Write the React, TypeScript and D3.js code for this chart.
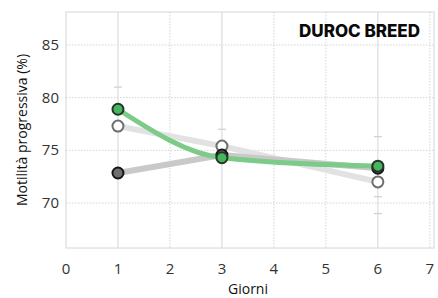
import React, { useRef, useEffect } from "react";
import * as d3 from "d3";

const days = [1, 3, 6];
const greenValues = [78.9, 74.3, 73.5];
const darkValues = [72.85, 74.55, 73.3];
const openValues = [77.3, 75.4, 72.0];
const xTicks = [0, 1, 2, 3, 4, 5, 6, 7];
const yTicks = [70, 75, 80, 85];
const capDays = [1, 3, 6, 6, 6];
const capValues = [81.0, 77.0, 76.3, 70.6, 69.0];

const App = () => {
  const svgRef = useRef<SVGSVGElement>(null);

  useEffect(() => {
    if (!svgRef.current) return;
    const svg = d3.select(svgRef.current);
    svg.selectAll("*").remove();

    const width = 438;
    const height = 298;
    const left = 66;
    const right = 434;
    const top = 12;
    const bottom = 248;

    const x = d3.scaleLinear([0, 7.08], [left, right]);
    const y = d3.scaleLinear([65.73, 88.13], [bottom, top]);

    svg
      .attr("width", width)
      .attr("height", height)
      .style("position", "absolute")
      .style("left", "0px")
      .style("top", "0px");

    // frame
    svg
      .append("rect")
      .attr("x", left)
      .attr("y", top)
      .attr("width", right - left)
      .attr("height", bottom - top)
      .attr("fill", "none")
      .attr("stroke", "#e4e4e4")
      .attr("stroke-width", 1.5);

    // dotted grid
    const grid = svg.append("g");
    grid
      .selectAll("line.h")
      .data(yTicks)
      .join("line")
      .attr("x1", left)
      .attr("x2", right)
      .attr("y1", (d) => y(d))
      .attr("y2", (d) => y(d))
      .attr("stroke", "#d4d4d4")
      .attr("stroke-dasharray", "1.5,1.5");
    grid
      .selectAll("line.v")
      .data(xTicks.filter((d) => d > 0 && !days.includes(d)))
      .join("line")
      .attr("class", "v")
      .attr("x1", (d) => x(d))
      .attr("x2", (d) => x(d))
      .attr("y1", top)
      .attr("y2", bottom)
      .attr("stroke", "#d4d4d4")
      .attr("stroke-dasharray", "1.5,1.5");
    grid
      .selectAll("line.s")
      .data(days)
      .join("line")
      .attr("class", "s")
      .attr("x1", (d) => x(d))
      .attr("x2", (d) => x(d))
      .attr("y1", top)
      .attr("y2", bottom)
      .attr("stroke", "#dcdcdc")
      .attr("stroke-width", 1.2);

    // error caps
    svg
      .append("g")
      .selectAll("line")
      .data(capDays.map((d, i) => [d, capValues[i]]))
      .join("line")
      .attr("x1", (d) => x(d[0]) - 4)
      .attr("x2", (d) => x(d[0]) + 4)
      .attr("y1", (d) => y(d[1]))
      .attr("y2", (d) => y(d[1]))
      .attr("stroke", "#d0d0d0")
      .attr("stroke-width", 1.2);

    // axis labels
    const ticks = svg
      .append("g")
      .style("font-family", "'Open Sans', sans-serif")
      .style("font-size", "15px")
      .attr("fill", "#333");
    ticks
      .selectAll("text.x")
      .data(xTicks)
      .join("text")
      .attr("x", (d) => x(d))
      .attr("y", 274)
      .attr("text-anchor", "middle")
      .text((d) => d);
    ticks
      .selectAll("text.y")
      .data(yTicks)
      .join("text")
      .attr("class", "y")
      .attr("x", 59)
      .attr("y", (d) => y(d) + 5)
      .attr("text-anchor", "end")
      .text((d) => d);

    svg
      .append("text")
      .attr("x", 248)
      .attr("y", 294)
      .attr("text-anchor", "middle")
      .style("font-family", "'Open Sans', sans-serif")
      .style("font-size", "14px")
      .attr("fill", "#111")
      .text("Giorni");

    svg
      .append("text")
      .attr("transform", `translate(27,${(top + bottom) / 2}) rotate(-90)`)
      .attr("text-anchor", "middle")
      .style("font-family", "'Open Sans', sans-serif")
      .style("font-size", "14px")
      .attr("fill", "#111")
      .text("Motilità progressiva (%)");

    svg
      .append("text")
      .attr("x", 420)
      .attr("y", 37)
      .attr("text-anchor", "end")
      .style("font-family", "Inter, sans-serif")
      .style("font-weight", "800")
      .style("font-size", "17px")
      .attr("fill", "#0a0a0a")
      .text("DUROC BREED");

    const straight = d3
      .line<number>()
      .x((_, i) => x(days[i]))
      .y((d) => y(d));
    const smooth = straight.curve(d3.curveMonotoneX);

    const series = [
      { values: openValues, curve: false, line: "#e2e2e2", lw: 6, fill: "#fff", stroke: "#6e6e6e" },
      { values: darkValues, curve: false, line: "#c9c9c9", lw: 6, fill: "#6f6f6f", stroke: "#161616" },
      { values: greenValues, curve: true, line: "#7ccb89", lw: 5, fill: "#47b55c", stroke: "#24352a" },
    ];

    series.forEach((s) => {
      const gen = d3
        .line<number>()
        .x((_, i) => x(days[i]))
        .y((d) => y(d))
        .curve(s.curve ? d3.curveMonotoneX : d3.curveLinear);
      svg
        .append("path")
        .attr("d", gen(s.values))
        .attr("fill", "none")
        .attr("stroke", s.line)
        .attr("stroke-width", s.lw)
        .attr("stroke-linecap", "round");
    });
    series.forEach((s) => {
      svg
        .append("g")
        .selectAll("circle")
        .data(s.values)
        .join("circle")
        .attr("cx", (_, i) => x(days[i]))
        .attr("cy", (d) => y(d))
        .attr("r", 5.5)
        .attr("fill", s.fill)
        .attr("stroke", s.stroke)
        .attr("stroke-width", 2);
    });
  }, []);

  return <svg ref={svgRef}></svg>;
};

export default App;
